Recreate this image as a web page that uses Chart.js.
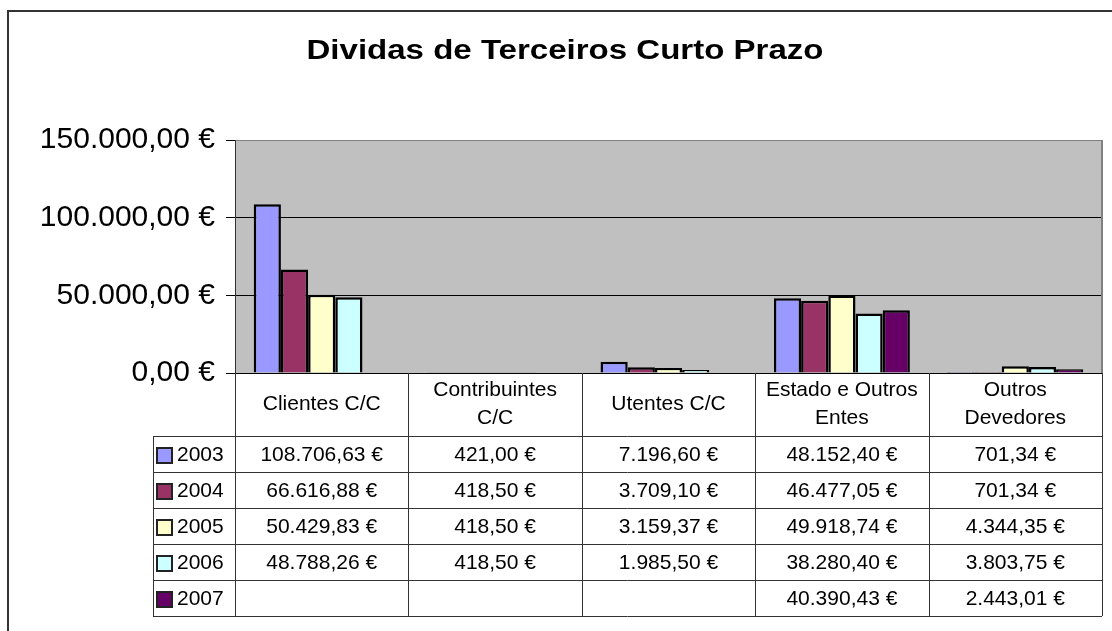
<!DOCTYPE html>
<html>
<head>
<meta charset="utf-8">
<title>Dividas de Terceiros Curto Prazo</title>
<script src="https://cdn.jsdelivr.net/npm/chart.js@4.4.0/dist/chart.umd.min.js"></script>
<style>
  html, body { margin: 0; padding: 0; background: #fff; }
  #wrap { position: relative; width: 1112px; height: 631px; }
</style>
</head>
<body>
<div id="wrap"><canvas id="chart" width="1112" height="631"></canvas></div>
<script>
const chartTitle = 'Dividas de Terceiros Curto Prazo';
const categories = [['Clientes C/C'], ['Contribuintes', 'C/C'], ['Utentes C/C'], ['Estado e Outros', 'Entes'], ['Outros', 'Devedores']];
const years = ['2003', '2004', '2005', '2006', '2007'];
const colors = ['#9999FF', '#993366', '#FFFFCC', '#CCFFFF', '#660066'];
const v2003 = [108706.63, 421.00, 7196.60, 48152.40, 701.34];
const v2004 = [66616.88, 418.50, 3709.10, 46477.05, 701.34];
const v2005 = [50429.83, 418.50, 3159.37, 49918.74, 4344.35];
const v2006 = [48788.26, 418.50, 1985.50, 38280.40, 3803.75];
const v2007 = [null, null, null, 40390.43, 2443.01];
const yTicks = [0, 50000, 100000, 150000];

const series = [v2003, v2004, v2005, v2006, v2007];
const FONT = "'Liberation Sans', Arial, sans-serif";

// 108706.63 -> "108.706,63 €"
const euro = (v) => {
    const [i, d] = Math.abs(v).toFixed(2).split('.');
    return i.replace(/\B(?=(\d{3})+(?!\d))/g, '.') + ',' + d + ' €';
};

const tablePlugin = {
    id: 'dataTable',
    beforeDraw(chart) {
        const { ctx, chartArea: a } = chart;
        ctx.save();
        ctx.fillStyle = '#fff';
        ctx.fillRect(0, 0, chart.width, chart.height);
        ctx.fillStyle = '#C0C0C0';
        ctx.fillRect(a.left, a.top, a.right - a.left, a.bottom - a.top);
        ctx.restore();
    },
    afterDraw(chart) {
        const { ctx, chartArea: a } = chart;
        const x = chart.scales.x;
        ctx.save();

        // outer frame
        ctx.strokeStyle = '#333';
        ctx.lineWidth = 2;
        ctx.beginPath();
        ctx.moveTo(8, chart.height);
        ctx.lineTo(8, 11);
        ctx.lineTo(chart.width, 11);
        ctx.stroke();

        // plot area right edge
        ctx.strokeStyle = '#808080';
        ctx.lineWidth = 2;
        ctx.beginPath();
        ctx.moveTo(a.right, a.top);
        ctx.lineTo(a.right, a.bottom);
        ctx.stroke();

        // title, stretched a bit wider like the excel original
        ctx.fillStyle = '#000';
        ctx.font = 'bold 27px ' + FONT;
        ctx.textAlign = 'center';
        ctx.textBaseline = 'alphabetic';
        const tw = ctx.measureText(chartTitle).width;
        ctx.save();
        ctx.translate(565, 59);
        ctx.scale(517 / tw, 1);
        ctx.fillText(chartTitle, 0, 0);
        ctx.restore();
        ctx.textBaseline = 'middle';

        // data table
        const half = (x.getPixelForValue(1) - x.getPixelForValue(0)) / 2;
        const edges = categories.map((c, i) => x.getPixelForValue(i) - half);
        edges.push(x.getPixelForValue(categories.length - 1) + half);
        const headTop = a.bottom;
        const headBottom = headTop + 63;
        const rowH = 36;
        const tableBottom = headBottom + rowH * years.length;
        const legendLeft = 153;

        ctx.strokeStyle = '#333';
        ctx.lineWidth = 1;
        ctx.beginPath();
        edges.forEach((e) => {
            ctx.moveTo(Math.round(e) + 0.5, headTop);
            ctx.lineTo(Math.round(e) + 0.5, tableBottom);
        });
        ctx.moveTo(legendLeft + 0.5, headBottom);
        ctx.lineTo(legendLeft + 0.5, tableBottom);
        for (let r = 0; r <= years.length; r++) {
            const y = Math.round(headBottom + r * rowH) + 0.5;
            ctx.moveTo(legendLeft, y);
            ctx.lineTo(edges[edges.length - 1], y);
        }
        ctx.stroke();

        ctx.font = '21px ' + FONT;
        ctx.fillStyle = '#000';
        categories.forEach((lines, i) => {
            const cx = x.getPixelForValue(i);
            if (lines.length === 1) {
                ctx.fillText(lines[0], cx, headTop + 31);
            } else {
                ctx.fillText(lines[0], cx, headTop + 17);
                ctx.fillText(lines[1], cx, headTop + 45);
            }
        });

        years.forEach((yr, r) => {
            const cy = headBottom + r * rowH + rowH / 2 + 1;
            ctx.fillStyle = colors[r];
            ctx.fillRect(legendLeft + 4, cy - 7, 15, 15);
            ctx.strokeStyle = '#222';
            ctx.lineWidth = 2;
            ctx.strokeRect(legendLeft + 4, cy - 7, 15, 15);
            ctx.fillStyle = '#000';
            ctx.textAlign = 'left';
            ctx.fillText(yr, legendLeft + 24, cy);
            ctx.textAlign = 'center';
            series[r].forEach((v, i) => {
                if (v == null) return;
                ctx.fillText(euro(v), x.getPixelForValue(i), cy);
            });
        });

        ctx.restore();
    }
};

const ctx = document.getElementById('chart').getContext('2d');
new Chart(ctx, {
    type: 'bar',
    data: {
        labels: categories.map((c) => c.join(' ')),
        datasets: years.map((yr, i) => ({
            label: yr,
            data: series[i],
            backgroundColor: colors[i],
            borderColor: '#000',
            borderWidth: 2.5
        }))
    },
    options: {
        responsive: false,
        animation: false,
        layout: { padding: { top: 140, right: 10, bottom: 258, left: 0 } },
        datasets: { bar: { categoryPercentage: 0.784, barPercentage: 1 } },
        plugins: {
            legend: { display: false },
            title: { display: false },
            tooltip: { enabled: false }
        },
        scales: {
            x: { display: false },
            y: {
                min: 0,
                max: 150000,
                afterBuildTicks: (s) => { s.ticks = yTicks.map((v) => ({ value: v })); },
                afterFit: (s) => { s.width = 235; },
                border: { display: true, color: '#333', width: 1 },
                grid: {
                    color: (c) => (c.tick && c.tick.value === 150000 ? '#808080' : '#000'),
                    tickLength: 9,
                    tickColor: '#000'
                },
                ticks: {
                    padding: 11,
                    color: '#000',
                    font: { family: FONT, size: 30 },
                    callback: (v) => euro(v)
                }
            }
        }
    },
    plugins: [tablePlugin]
});
</script>
</body>
</html>
